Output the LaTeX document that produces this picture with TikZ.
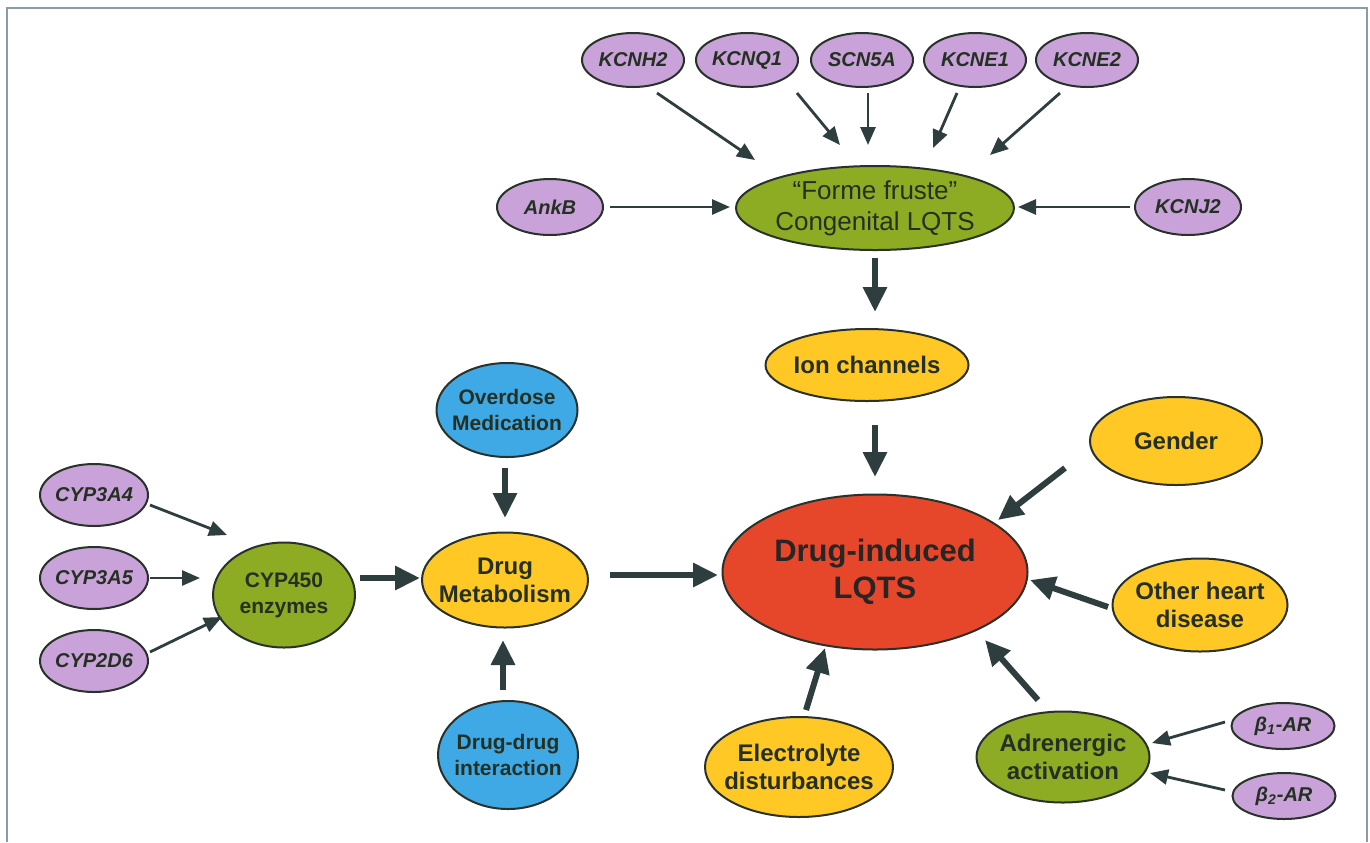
\documentclass[tikz,border=0pt]{standalone}
\usepackage{fontspec}
\setmainfont{Liberation Sans}
\usetikzlibrary{shapes.geometric,arrows.meta,calc}
\definecolor{genefill}{RGB}{200,162,216}
\definecolor{greenfill}{RGB}{141,172,36}
\definecolor{yellowfill}{RGB}{255,200,37}
\definecolor{redfill}{RGB}{230,70,42}
\definecolor{bluefill}{RGB}{63,169,230}
\definecolor{outline}{RGB}{40,50,42}
\definecolor{txt}{RGB}{36,48,34}
\definecolor{arrowcol}{RGB}{46,61,61}
\definecolor{framecol}{RGB}{138,156,164}
\tikzset{
  oval/.style={ellipse, draw=outline, line width=1pt, inner sep=-14pt, outer sep=0pt,
    align=center, text=txt},
  sz/.style 2 args={minimum width=#1*0.5pt, minimum height=#2*0.5pt},
  gene/.style={oval, fill=genefill, font=\fontsize{10}{12}\selectfont\bfseries\itshape},
  greenov/.style={oval, fill=greenfill},
  yellowov/.style={oval, fill=yellowfill},
  blueov/.style={oval, fill=bluefill, font=\fontsize{10.5}{13}\selectfont\bfseries},
  mainfont/.style={font=\fontsize{12}{14}\selectfont\bfseries},
  thinarrow/.style={draw=arrowcol, line width=1.4pt, -{Triangle[length=9pt,width=7.5pt]}},
  thickarrow/.style={draw=arrowcol, line width=3pt, -{Triangle[length=12.5pt,width=11.5pt]}},
}
\begin{document}
\begin{tikzpicture}[x=0.5pt,y=-0.5pt]
\useasboundingbox (0,0) rectangle (1370,842);
\fill[white] (0,0) rectangle (1370,842);
\draw[framecol, line width=1pt] (7,842) -- (7,8) -- (1367,8) -- (1367,842);

% genes top
\node[gene, sz={102}{54}] (kcnh2) at (633,60) {KCNH2};
\node[gene, sz={102}{54}] (kcnq1) at (747,60) {KCNQ1};
\node[gene, sz={102}{54}] (scn5a) at (862,60) {SCN5A};
\node[gene, sz={102}{54}] (kcne1) at (975,60) {KCNE1};
\node[gene, sz={102}{54}] (kcne2) at (1087,60) {KCNE2};
\node[gene, sz={106}{56}] (ankb) at (550,207) {AnkB};
\node[gene, sz={106}{56}] (kcnj2) at (1188,207) {KCNJ2};

% main nodes
\node[greenov, sz={278}{84}, font=\fontsize{13}{15.5}\selectfont] (forme) at (875,208) {“Forme fruste”\\Congenital LQTS};
\node[yellowov, mainfont, sz={203}{72}] (ion) at (867,365) {Ion channels};
\node[oval, fill=redfill, sz={305}{155}, font=\fontsize{15.5}{18.5}\selectfont\bfseries, text=black!85] (dil) at (875,572) {Drug-induced\\LQTS};
\node[yellowov, mainfont, sz={172}{88}] (gender) at (1176,441) {Gender};
\node[yellowov, mainfont, sz={175}{93}] (other) at (1200,605) {Other heart\\disease};
\node[greenov, mainfont, sz={173}{91}] (adren) at (1063,757) {Adrenergic\\activation};
\node[gene, sz={103}{46}] (b1) at (1283,726) {β\textsubscript{1}-AR};
\node[gene, sz={103}{46}] (b2) at (1284,796) {β\textsubscript{2}-AR};
\node[yellowov, mainfont, sz={188}{100}] (elec) at (799,767) {Electrolyte\\disturbances};
\node[yellowov, mainfont, sz={166}{95}] (drugmet) at (505,580) {Drug\\Metabolism};
\node[blueov, sz={141}{94}] (overdose) at (507,410) {Overdose\\Medication};
\node[blueov, sz={140}{108}] (ddi) at (508,755) {Drug-drug\\interaction};
\node[greenov, sz={142}{105}, font=\fontsize{10.5}{13}\selectfont\bfseries] (cyp450) at (284,595) {CYP450\\enzymes};
\node[gene, sz={108}{62}] (cyp3a4) at (94,495) {CYP3A4};
\node[gene, sz={108}{62}] (cyp3a5) at (94,578) {CYP3A5};
\node[gene, sz={108}{62}] (cyp2d6) at (94,661) {CYP2D6};

% arrows into Forme fruste
\draw[thinarrow] ($(kcnh2)+(24,33)$) -- ($(forme)+(-120,-48)$);
\draw[thinarrow] ($(kcnq1)+(50,33)$) -- ($(forme)+(-35,-63)$);
\draw[thinarrow] ($(scn5a)+(6,33)$) -- ($(forme)+(-7,-63)$);
\draw[thinarrow] ($(kcne1)+(-18,33)$) -- ($(forme)+(58,-60)$);
\draw[thinarrow] ($(kcne2)+(-27,33)$) -- ($(forme)+(115,-53)$);
\draw[thinarrow] ($(ankb)+(60,0)$) -- ($(forme)+(-145,-1)$);
\draw[thinarrow] ($(kcnj2)+(-58,0)$) -- ($(forme)+(143,-1)$);

% main chain
\draw[thickarrow] ($(forme)+(0,50)$) -- ($(ion)+(8,-53)$);
\draw[thickarrow] ($(ion)+(8,60)$) -- ($(dil)+(0,-95)$);
\draw[thickarrow] ($(gender)+(-111,27)$) -- ($(dil)+(123,-52)$);
\draw[thickarrow] ($(other)+(-92,2)$) -- ($(dil)+(155,8)$);
\draw[thickarrow] ($(adren)+(-25,-57)$) -- ($(dil)+(110,68)$);
\draw[thickarrow] ($(elec)+(7,-57)$) -- ($(dil)+(-50,76)$);
\draw[thinarrow] ($(b1)+(-58,-4)$) -- ($(adren)+(89,-14)$);
\draw[thinarrow] ($(b2)+(-59,-6)$) -- ($(adren)+(87,16)$);

% left side
\draw[thickarrow] ($(drugmet)+(105,-5)$) -- ($(dil)+(-157,3)$);
\draw[thickarrow] ($(cyp450)+(76,-17)$) -- ($(drugmet)+(-85,-2)$);
\draw[thickarrow] ($(overdose)+(-2,58)$) -- ($(drugmet)+(0,-62)$);
\draw[thickarrow] ($(ddi)+(-5,-65)$) -- ($(drugmet)+(-2,60)$);
\draw[thinarrow] ($(cyp3a4)+(56,10)$) -- ($(cyp450)+(-57,-60)$);
\draw[thinarrow] ($(cyp3a5)+(56,0)$) -- ($(cyp450)+(-84,-17)$);
\draw[thinarrow] ($(cyp2d6)+(56,-9)$) -- ($(cyp450)+(-62,22)$);
\end{tikzpicture}
\end{document}
